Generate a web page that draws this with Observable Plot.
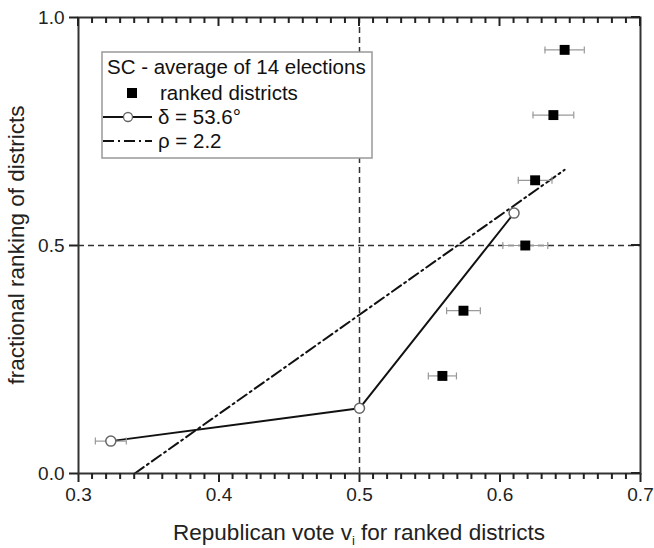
<!DOCTYPE html>
<html><head><meta charset="utf-8">
<script src="https://cdn.jsdelivr.net/npm/d3@7"></script>
<script src="https://cdn.jsdelivr.net/npm/@observablehq/plot@0.6"></script>
<style>body{margin:0;background:#fff;font-family:"Liberation Sans",Arial,sans-serif}</style>
</head><body><div id="chart"></div>
<script>
// ranked districts (squares) with error bars
const rankedVote = [0.323, 0.559, 0.574, 0.618, 0.625, 0.638, 0.646];
const rankedRank = [0.071, 0.214, 0.357, 0.500, 0.643, 0.786, 0.929];
const rankedErr  = [0.011, 0.010, 0.012, 0.016, 0.012, 0.0145, 0.014];
const squareShown = [false, true, true, true, true, true, true];
// delta = 53.6° curve (open circles)
const deltaVote = [0.323, 0.500, 0.610];
const deltaRank = [0.071, 0.143, 0.571];
// rho = 2.2 line
const rhoVote = [0.340, 0.646];
const rhoRank = [0.000, 0.666];
// ticks
const xMajorTicks = [0.3, 0.4, 0.5, 0.6, 0.7];
const yMajorTicks = [0.0, 0.5, 1.0];
const xMinorTicks = d3.ticks(0.3, 0.7, 40).filter(t => Math.abs(t * 10 - Math.round(t * 10)) > 1e-6);
const refX = [0.5], refY = [0.5];

const ranked = rankedVote.map((v, i) => ({x: v, y: rankedRank[i], lo: v - rankedErr[i], hi: v + rankedErr[i], sq: squareShown[i]}));
const delta = deltaVote.map((v, i) => ({x: v, y: deltaRank[i]}));
const rho = rhoVote.map((v, i) => ({x: v, y: rhoRank[i]}));

const W = 654, H = 548, ML = 78, MR = 14, MT = 17, MB = 75;
const cap = {draw(ctx, size) { const r = Math.sqrt(size / Math.PI); ctx.moveTo(0, -r); ctx.lineTo(0, r); }};
const axisColor = "#222";
const fmt = d3.format(".1f");

const chart = Plot.plot({
  width: W, height: H,
  marginLeft: ML, marginRight: MR, marginTop: MT, marginBottom: MB,
  style: {fontFamily: '"Liberation Sans", Arial, sans-serif', background: "white"},
  x: {domain: [0.3, 0.7]},
  y: {domain: [0, 1]},
  marks: [
    Plot.ruleY(refY, {stroke: "#333", strokeWidth: 1.5, strokeDasharray: "6,4"}),
    Plot.ruleX(refX, {stroke: "#333", strokeWidth: 1.5, strokeDasharray: "6,4"}),
    Plot.line(rho, {x: "x", y: "y", stroke: "#111", strokeWidth: 2, strokeDasharray: "11,4,2,4"}),
    Plot.line(delta, {x: "x", y: "y", stroke: "#111", strokeWidth: 2}),
    Plot.ruleY(ranked, {y: "y", x1: "lo", x2: "hi", stroke: "#999", strokeWidth: 1.2}),
    Plot.dot(ranked, {x: "lo", y: "y", symbol: cap, r: 3.5, stroke: "#999", strokeWidth: 1.2}),
    Plot.dot(ranked, {x: "hi", y: "y", symbol: cap, r: 3.5, stroke: "#999", strokeWidth: 1.2}),
    Plot.dot(ranked.filter(d => d.sq), {x: "x", y: "y", symbol: "square", r: 5.6, fill: "#000"}),
    Plot.dot(delta, {x: "x", y: "y", r: 5, fill: "white", stroke: "#666", strokeWidth: 1.5}),
    Plot.axisX(xMajorTicks, {anchor: "bottom", tickSize: 9, tickPadding: 5, fontSize: 19, tickFormat: fmt, label: null, stroke: axisColor, strokeWidth: 2, color: "#222"}),
    Plot.axisY(yMajorTicks, {anchor: "left", tickSize: 9, tickPadding: 5, fontSize: 19, tickFormat: fmt, label: null, stroke: axisColor, strokeWidth: 2, color: "#222"}),
    Plot.frame({stroke: "#333", strokeWidth: 2})
  ]
});
document.getElementById("chart").appendChild(chart);

const svg = d3.select(chart);
const sx = chart.scale("x"), sy = chart.scale("y");
const x0 = sx.range[0], x1 = sx.range[1];
const yb = sy.range[0], yt = sy.range[1];
// minor & mirrored ticks placed through Plot's own scales
const tg = svg.append("g").attr("stroke", axisColor).attr("stroke-width", 2).attr("fill", "none");
xMinorTicks.forEach(t => {
  const px = sx.apply(t);
  tg.append("line").attr("x1", px).attr("x2", px).attr("y1", yb).attr("y2", yb + 6);
  tg.append("line").attr("x1", px).attr("x2", px).attr("y1", yt).attr("y2", yt + 6);
});
xMajorTicks.forEach(t => {
  const px = sx.apply(t);
  tg.append("line").attr("x1", px).attr("x2", px).attr("y1", yt).attr("y2", yt + 9);
});
yMajorTicks.forEach(t => {
  const py = sy.apply(t);
  tg.append("line").attr("x1", x1 - 9).attr("x2", x1).attr("y1", py).attr("y2", py);
});

const ff = '"Liberation Sans", Arial, sans-serif';
// axis titles
const xl = svg.append("text").attr("x", (x0 + x1) / 2).attr("y", 540).attr("text-anchor", "middle")
  .attr("font-size", 22.5).attr("font-family", ff).attr("fill", "#222");
xl.append("tspan").text("Republican vote v");
xl.append("tspan").attr("font-size", 13).attr("dy", 5).text("i");
xl.append("tspan").attr("dy", -5).text(" for ranked districts");
svg.append("text").attr("transform", `translate(24,${(yb + yt) / 2}) rotate(-90)`).attr("text-anchor", "middle")
  .attr("font-size", 22.5).attr("font-family", ff).attr("fill", "#222").text("fractional ranking of districts");

// legend
const lg = svg.append("g").attr("font-family", ff).attr("font-size", 20.5).attr("fill", "#111").attr("text-anchor", "start");
lg.append("rect").attr("x", 102).attr("y", 52).attr("width", 270).attr("height", 106)
  .attr("fill", "white").attr("stroke", "#999").attr("stroke-width", 1.5);
lg.append("text").attr("x", 107).attr("y", 74).text("SC - average of 14 elections");
lg.append("rect").attr("x", 127).attr("y", 88).attr("width", 10).attr("height", 10).attr("fill", "#000");
lg.append("text").attr("x", 160).attr("y", 100).text("ranked districts");
lg.append("line").attr("x1", 103).attr("x2", 152).attr("y1", 117).attr("y2", 117).attr("stroke", "#111").attr("stroke-width", 2);
lg.append("circle").attr("cx", 128).attr("cy", 117).attr("r", 4.5).attr("fill", "white").attr("stroke", "#666").attr("stroke-width", 1.3);
lg.append("text").attr("x", 158).attr("y", 124).text("δ = 53.6°");
lg.append("line").attr("x1", 103).attr("x2", 152).attr("y1", 141).attr("y2", 141).attr("stroke", "#111").attr("stroke-width", 2).attr("stroke-dasharray", "11,4,2,4");
lg.append("text").attr("x", 158).attr("y", 148).text("ρ = 2.2");
</script>
</body></html>
